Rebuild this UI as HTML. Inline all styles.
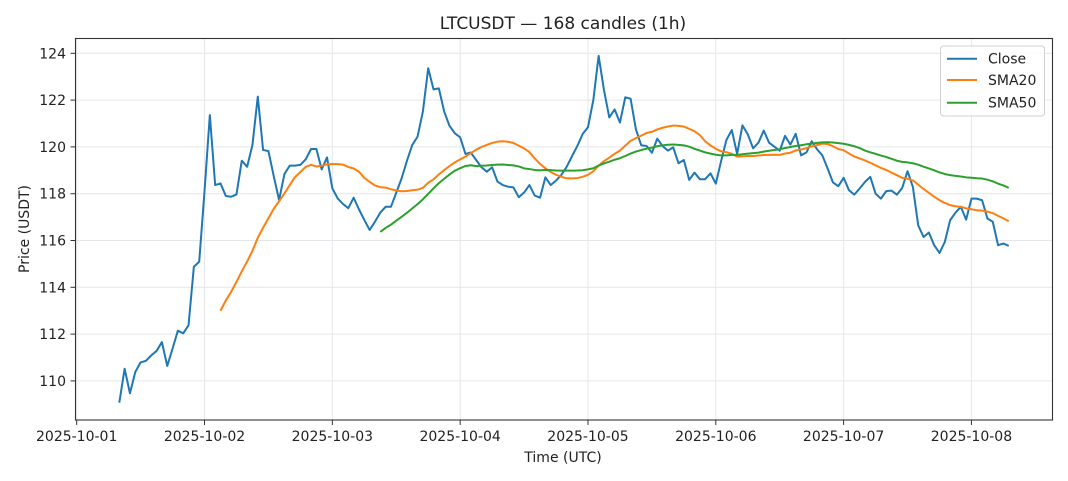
<!DOCTYPE html>
<html><head><meta charset="utf-8"><style>
html,body{margin:0;padding:0;background:#fff;}
svg{display:block;font-family:"DejaVu Sans","Liberation Sans",sans-serif;}
</style></head><body>
<svg id="c" width="1068" height="481" viewBox="0 0 1068 481" xmlns="http://www.w3.org/2000/svg">
<rect width="1068" height="481" fill="#fff"/>
<g id="grid" stroke="#e4e6ea" stroke-width="1"></g>
<g id="series" fill="none" stroke-linejoin="round" stroke-linecap="butt"></g>
<rect x="75.5" y="38.5" width="977" height="381.5" fill="none" stroke="#333" stroke-width="1.1"/>
<g id="ticks" stroke="#333" stroke-width="1"></g>
<g id="labels" fill="#222" font-size="14"></g>
<text x="563" y="29" text-anchor="middle" font-size="17" fill="#222">LTCUSDT — 168 candles (1h)</text>
<text x="563" y="462" text-anchor="middle" font-size="14" fill="#222">Time (UTC)</text>
<text transform="translate(29,229) rotate(-90)" text-anchor="middle" font-size="14" fill="#222">Price (USDT)</text>
<g>
<rect x="940.5" y="46" width="104" height="70" rx="3" ry="3" fill="#fff" fill-opacity="0.85" stroke="#d0d0d0" stroke-width="1"/>
<line x1="947" y1="58.7" x2="977" y2="58.7" stroke="#1f77b4" stroke-width="2"/>
<line x1="947" y1="80" x2="977" y2="80" stroke="#ff7f0e" stroke-width="2"/>
<line x1="947" y1="102.7" x2="977" y2="102.7" stroke="#2ca02c" stroke-width="2"/>
<text x="988" y="63.5" font-size="14" fill="#222">Close</text>
<text x="988" y="85" font-size="14" fill="#222">SMA20</text>
<text x="988" y="107.5" font-size="14" fill="#222">SMA50</text>
</g>
</svg>
<script>
(function(){
var close=[109.07,110.52,109.47,110.38,110.79,110.86,111.09,111.28,111.66,110.64,
111.38,112.15,112.03,112.38,114.88,115.09,118.1,121.36,118.37,118.44,
117.90,117.87,117.97,119.41,119.15,120.08,122.15,119.87,119.82,118.75,
117.73,118.84,119.2,119.2,119.23,119.47,119.91,119.91,119.04,119.55,
118.23,117.8,117.56,117.38,117.83,117.33,116.88,116.45,116.8,117.19,
117.44,117.44,118.04,118.65,119.4,120.08,120.44,121.51,123.36,122.46,
122.5,121.51,120.9,120.58,120.41,119.7,119.76,119.44,119.13,118.94,
119.13,118.52,118.37,118.3,118.27,117.85,118.05,118.37,117.92,117.83,
118.7,118.37,118.56,118.8,119.15,119.6,120.04,120.55,120.84,122.0,
123.89,122.43,121.26,121.6,121.04,122.12,122.06,120.75,120.07,120.04,
119.75,120.35,120.04,119.84,119.98,119.3,119.44,118.59,118.9,118.62,
118.62,118.87,118.43,119.4,120.3,120.72,119.7,120.92,120.54,119.94,
120.18,120.7,120.18,120.01,119.84,120.47,120.1,120.56,119.64,119.76,
120.24,119.9,119.64,119.07,118.48,118.32,118.68,118.15,117.96,118.22,
118.5,118.72,118.0,117.79,118.11,118.13,117.96,118.25,118.96,118.29,
116.65,116.15,116.34,115.8,115.47,115.94,116.87,117.19,117.44,116.89,
117.79,117.79,117.72,116.94,116.8,115.8,115.87,115.77];
function X(i){return 119.3+5.326*i;}
function Y(v){return 53.3+(124-v)*23.4;}
var NS="http://www.w3.org/2000/svg";
function el(tag,attrs,parent){var e=document.createElementNS(NS,tag);for(var k in attrs)e.setAttribute(k,attrs[k]);if(parent)parent.appendChild(e);return e;}
var grid=document.getElementById('grid'),ticks=document.getElementById('ticks'),labels=document.getElementById('labels'),series=document.getElementById('series');
var days=['2025-10-01','2025-10-02','2025-10-03','2025-10-04','2025-10-05','2025-10-06','2025-10-07','2025-10-08'];
for(var d=0;d<8;d++){
  var x=76.7+127.82*d;
  el('line',{x1:x,y1:38.5,x2:x,y2:420},grid);
  el('line',{x1:x,y1:420,x2:x,y2:425},ticks);
  var t=el('text',{x:x,y:441,'text-anchor':'middle'},labels);t.textContent=days[d];
}
for(var v=110;v<=124;v+=2){
  var y=Y(v);
  el('line',{x1:75.5,y1:y,x2:1052.5,y2:y},grid);
  el('line',{x1:70.5,y1:y,x2:75.5,y2:y},ticks);
  var t2=el('text',{x:66,y:y+5,'text-anchor':'end'},labels);t2.textContent=String(v);
}
function path(arr){var s='';for(var i=0;i<arr.length;i++){if(arr[i]==null)continue;s+=(s?'L':'M')+X(i).toFixed(2)+','+Y(arr[i]).toFixed(2);}return s;}
function sma(n){var out=[];for(var i=0;i<close.length;i++){if(i<n-1){out.push(null);continue;}var s=0;for(var j=i-n+1;j<=i;j++)s+=close[j];out.push(s/n);}return out;}
el('path',{d:path(close),stroke:'#1f77b4','stroke-width':2},series);
el('path',{d:path(sma(20)),stroke:'#ff7f0e','stroke-width':2},series);
el('path',{d:path(sma(50)),stroke:'#2ca02c','stroke-width':2},series);
})();
</script>
</body></html>
